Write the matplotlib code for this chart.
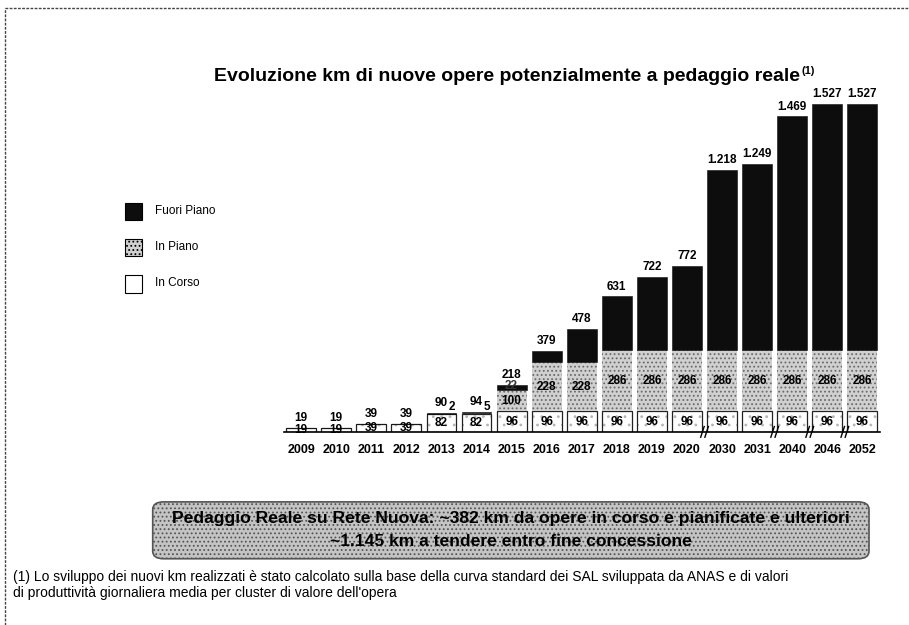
import matplotlib
matplotlib.use("Agg")
import matplotlib.pyplot as plt
from matplotlib.patches import FancyBboxPatch, Rectangle
from matplotlib.lines import Line2D
import numpy as np

plt.rcParams['font.family'] = ['Liberation Sans', 'DejaVu Sans']
plt.rcParams['hatch.linewidth'] = 0.8

# dati (km)
anni = ['2009', '2010', '2011', '2012', '2013', '2014', '2015', '2016', '2017',
        '2018', '2019', '2020', '2030', '2031', '2040', '2046', '2052']
in_corso = [19, 19, 39, 39, 82, 82, 96, 96, 96, 96, 96, 96, 96, 96, 96, 96, 96]
in_piano = [0, 0, 0, 0, 2, 5, 100, 228, 228, 286, 286, 286, 286, 286, 286, 286, 286]
fuori_piano = [0, 0, 0, 0, 6, 7, 22, 55, 154, 249, 340, 390, 836, 867, 1087, 1145, 1145]
totali = ['19', '19', '39', '39', '90', '94', '218', '379', '478', '631', '722',
          '772', '1.218', '1.249', '1.469', '1.527', '1.527']
# interruzioni dell'asse tra questi indici
rotture = [11.5, 13.5, 14.5, 15.5]

fig = plt.figure(figsize=(9.09, 6.25), dpi=100)
ax = fig.add_axes([0.312, 0.309, 0.656, 0.584])

x = np.arange(len(anni))
w = 0.85
c = np.array(in_corso)
p = np.array(in_piano)
f = np.array(fuori_piano)

# in corso: puntinato chiaro + contorno nero
ax.bar(x, c, w, color='white', edgecolor='#b5b5b5', linewidth=0, hatch='..')
ax.bar(x, c, w, fill=False, edgecolor='#222222', linewidth=0.9)
# in piano: grigio puntinato
ax.bar(x, p, w, bottom=c, color='#d0d0d0', edgecolor='#6a6a6a', linewidth=0, hatch='....')
# fuori piano: nero
ax.bar(x, f, w, bottom=c + p, color='#0d0d0d', edgecolor='#0d0d0d', linewidth=0.4)

for i in range(len(anni)):
    tot = c[i] + p[i] + f[i]
    ax.text(x[i], tot + 18, totali[i], ha='center', va='bottom', fontsize=8.5,
            fontweight='bold')
    ax.text(x[i], max(c[i] / 2, 4), str(c[i]), ha='center', va='center', fontsize=8.5,
            fontweight='bold')
    if p[i] >= 50:
        ax.text(x[i], c[i] + p[i] / 2, str(p[i]), ha='center', va='center',
                fontsize=8.5, fontweight='bold')
    elif p[i] > 0:
        ax.text(x[i] + 0.3, c[i] + p[i] + 2, str(p[i]), ha='center', va='bottom',
                fontsize=8.5, fontweight='bold')
ax.text(x[6], c[6] + p[6] + f[6] / 2 + 6, '22', ha='center', va='center', fontsize=8.5,
        fontweight='bold', color='#333333')

ax.set_xlim(-0.5, len(anni) - 0.5)
ax.set_ylim(0, 1700)
ax.set_xticks(x)
ax.set_xticklabels(anni, fontsize=9, fontweight='bold')
ax.tick_params(axis='x', length=0, pad=9)
ax.set_yticks([])
for s in ['top', 'right', 'left']:
    ax.spines[s].set_visible(False)
ax.spines['bottom'].set_linewidth(1.2)

for r in rotture:
    for dx in (-0.06, 0.06):
        ax.plot([r + dx - 0.05, r + dx + 0.05], [-25, 25], color='black', lw=1,
                clip_on=False)

fig.text(0.88, 0.878, 'Evoluzione km di nuove opere potenzialmente a pedaggio reale',
         ha='right', va='center', fontsize=14, fontweight='bold')
fig.text(0.882, 0.887, '(1)', ha='left', va='center', fontsize=8, fontweight='bold')

# legenda
voci = [('Fuori Piano', '#0d0d0d', ''), ('In Piano', '#d0d0d0', '....'),
        ('In Corso', 'white', '')]
for k, (nome, col, h) in enumerate(voci):
    yy = 0.663 - k * 0.058
    fig.patches.append(Rectangle((0.138, yy - 0.015), 0.018, 0.028, transform=fig.transFigure,
                                 facecolor=col, edgecolor='black', linewidth=0.8, hatch=h))
    fig.text(0.17, yy, nome, ha='left', va='center', fontsize=8.5)

# riquadro
box = FancyBboxPatch((0.172, 0.11), 0.78, 0.083, boxstyle='round,pad=0.004,rounding_size=0.012',
                     transform=fig.transFigure, facecolor='#c4c4c4', edgecolor='#555555',
                     linewidth=1.2, hatch='....')
fig.patches.append(box)
fig.text(0.562, 0.171, 'Pedaggio Reale su Rete Nuova: ~382 km da opere in corso e pianificate e ulteriori',
         ha='center', va='center', fontsize=12.6, fontweight='bold')
fig.text(0.562, 0.134, '~1.145 km a tendere entro fine concessione',
         ha='center', va='center', fontsize=12.6, fontweight='bold')

fig.text(0.014, 0.076, "(1) Lo sviluppo dei nuovi km realizzati è stato calcolato sulla base della curva "
         "standard dei SAL sviluppata da ANAS e di valori", ha='left', va='center', fontsize=10)
fig.text(0.014, 0.052, "di produttività giornaliera media per cluster di valore dell'opera",
         ha='left', va='center', fontsize=10)

# cornice
fig.lines.append(Line2D([0.006, 0.006], [0.0, 0.987], transform=fig.transFigure,
                        color='#444444', lw=1, ls=(0, (2, 1))))
fig.lines.append(Line2D([0.006, 1.0], [0.987, 0.987], transform=fig.transFigure,
                        color='#444444', lw=1, ls=(0, (2, 1))))

fig.savefig('out.png', dpi=100)
